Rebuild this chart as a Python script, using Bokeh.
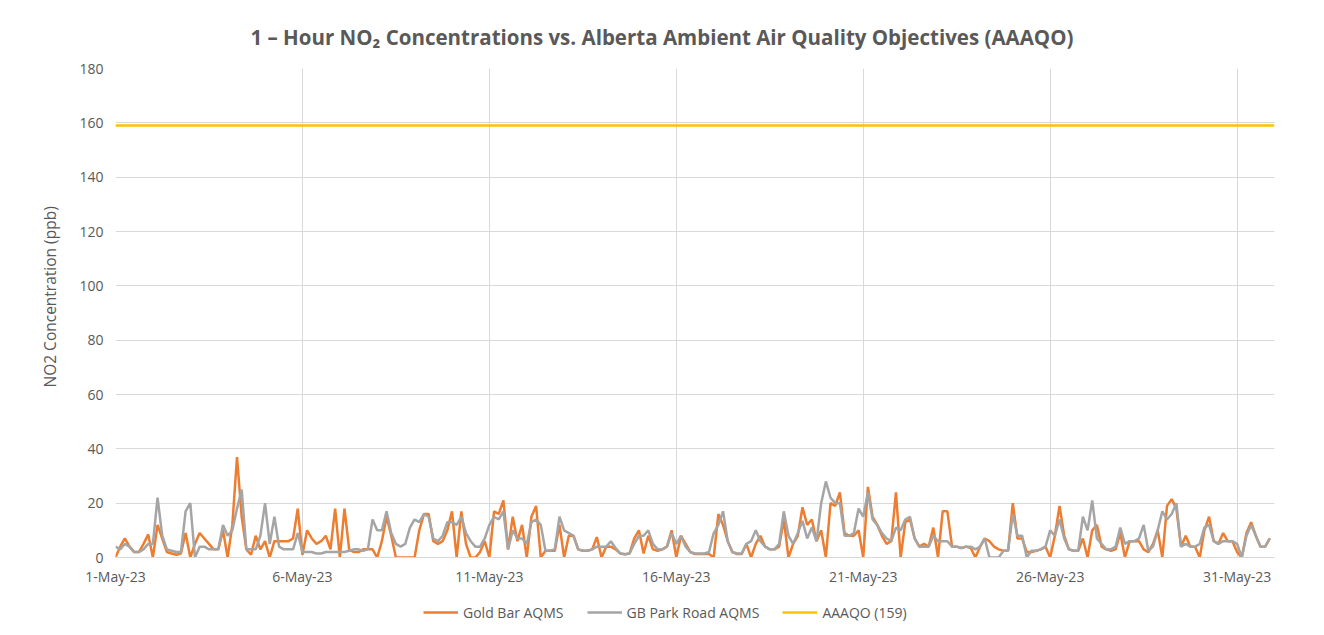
import pandas as pd
from bokeh.plotting import figure
from bokeh.layouts import column
from bokeh.models import (FixedTicker, DatetimeTickFormatter, Legend, LegendItem,
                          ColumnDataSource, Range1d, Title)
from bokeh.embed import file_html
from bokeh.resources import INLINE

# ---- data (3-hourly readings, 1 May 2023 00:00 onward) ----
gold_bar = [
    0, 4, 7, 4, 2, 2, 5, 8.5,          # 1 May
    0, 12, 7, 2, 1.5, 1, 1.5, 9,       # 2 May
    0, 5, 9, 7, 5, 3, 3, 10,           # 3 May
    0, 12, 37, 15, 3, 1, 8, 3,         # 4 May
    6, 0, 6, 6, 6, 6, 7, 18,           # 5 May
    1, 10, 7, 5, 6, 8, 3, 18,          # 6 May
    0, 18, 3, 2, 2, 3, 3, 3,           # 7 May
    0, 6, 15, 8, 0, 0, 0, 0,           # 8 May
    0, 10, 16, 16, 6, 5, 6, 10,        # 9 May
    17, 0, 17, 5, 0, 0, 2, 6,          # 10 May
    0, 17, 16, 21, 3, 15, 6, 12,       # 11 May
    0, 15, 19, 0, 2.5, 2.5, 2.5, 12,   # 12 May
    0, 8, 8, 3, 2.5, 2.5, 3, 7.5,      # 13 May
    0, 4, 4, 3, 1.5, 1.2, 1.5, 7,      # 14 May
    10, 1.5, 8, 3, 2.5, 3, 4, 10,      # 15 May
    0, 8, 5, 2, 1.3, 1.3, 1.3, 1.3,    # 16 May
    0, 16, 12, 6, 2, 1.3, 1.3, 5,      # 17 May
    0, 5, 8, 4, 3, 3, 4, 14,           # 18 May
    0, 5, 8, 18.5, 12, 14, 6, 10,      # 19 May
    0, 20, 19, 24, 9, 8, 8, 10,        # 20 May
    0, 26, 15, 12, 8, 5, 6, 24,        # 21 May
    0, 13, 14, 7, 4, 5, 4, 11,         # 22 May
    0, 17, 17, 4, 4, 3.5, 4, 3.5,      # 23 May
    0, 4, 7, 6, 4, 3, 2.5, 2.5,        # 24 May
    20, 7, 7, 2, 2, 2.5, 3, 4,         # 25 May
    0, 8, 19, 8, 3, 2.5, 2.5, 7,       # 26 May
    0, 10, 12, 4, 3, 2.5, 3, 9,        # 27 May
    0, 6, 6, 6, 3, 2, 5, 10,           # 28 May
    0, 19, 21.5, 18, 4, 8, 4, 4,       # 29 May
    0, 10, 15, 6, 5, 9, 6, 6,          # 30 May
    2, 0, 9, 13, 8, 4, 4, 7,           # 31 May
]

gb_park_road = [
    4, 3, 5, 4, 2, 2, 3, 5,            # 1 May
    5, 22, 8, 3, 2.5, 2, 2, 17,        # 2 May
    20, 0, 4, 4, 3, 3, 3, 12,          # 3 May
    8, 10, 18, 25, 3, 3, 3, 8,         # 4 May
    20, 5, 15, 4, 3, 3, 3, 9,          # 5 May
    2, 2, 2, 1.5, 1.5, 2, 2, 2,        # 6 May
    2, 2, 2.5, 3, 3, 2.5, 3, 14,       # 7 May
    10, 10, 17, 9, 5, 4, 5, 11,        # 8 May
    14, 13, 16, 15, 7, 6, 8, 13,       # 9 May
    13, 12, 15, 9, 6, 4, 4, 7,         # 10 May
    12, 15, 14, 17, 3, 10, 7, 7,       # 11 May
    5, 13, 14, 12, 2.5, 2.5, 3, 15,    # 12 May
    10, 9, 8, 3, 2.5, 2.5, 3, 4,       # 13 May
    4, 4, 6, 3.5, 1.5, 1.2, 1.5, 5,    # 14 May
    8, 8, 10, 5, 3, 3, 4, 9,           # 15 May
    5, 8, 4, 2, 1.5, 1.5, 1.5, 2,      # 16 May
    9, 12, 17, 6, 2, 1.5, 1.5, 5,      # 17 May
    6, 10, 6, 4, 3, 3, 5, 17,          # 18 May
    8, 5, 9, 13.5, 7, 11, 6, 20,       # 19 May
    28, 22, 20, 20, 8, 8, 9, 18,       # 20 May
    15, 24, 14, 12, 9, 7, 6, 11,       # 21 May
    10, 14, 15, 7, 4, 4, 4, 8,         # 22 May
    6, 6, 6, 4, 4, 3.5, 4, 4,          # 23 May
    3, 4, 7, 0, 0, 0, 2.5, 2.5,        # 24 May
    16, 8, 8, 0, 2.5, 2.5, 3, 4,       # 25 May
    10, 8, 14, 7, 3, 2.5, 2.5, 15,     # 26 May
    10, 21, 7, 5, 3, 3, 4, 11,         # 27 May
    5, 6, 6, 7, 12, 2.5, 4, 10,        # 28 May
    17, 14, 16, 20, 4, 5, 4, 4,        # 29 May
    5, 11, 12, 6, 5, 6, 6, 6,          # 30 May
    5, 0, 8, 12, 8, 4, 4, 7,           # 31 May
]

aaaqo_value = 159
period_start = "2023-05-01 00:00"
period_end = "2023-06-01 00:00"
x_tick_dates = ["2023-05-01", "2023-05-06", "2023-05-11", "2023-05-16",
                "2023-05-21", "2023-05-26", "2023-05-31"]
y_ticks = [0, 20, 40, 60, 80, 100, 120, 140, 160, 180]

series_names = ["Gold Bar AQMS", "GB Park Road AQMS", "AAAQO (159)"]
series_colors = ["#ED7D31", "#A5A5A5", "#FFC000"]
title_text = "1 \u2013 Hour NO\u2082 Concentrations vs. Alberta Ambient Air Quality Objectives (AAAQO)"
y_label = "NO2 Concentration (ppb)"

# ---- build ----
times = pd.date_range(period_start, periods=len(gold_bar), freq="3h")
src = ColumnDataSource(dict(t=times, gold=gold_bar, gb=gb_park_road))
t0 = pd.Timestamp(period_start)
t1 = pd.Timestamp(period_end)
lim_src = ColumnDataSource(dict(t=[t0, t1], v=[aaaqo_value, aaaqo_value]))

TXT = "#595959"
GRID = "#D9D9D9"
FONT = "Open Sans"
W = 1320
LW = 2.5

p = figure(width=W, height=595, x_axis_type="datetime",
           output_backend="svg", toolbar_location=None,
           x_range=Range1d(t0, t1), y_range=Range1d(0, 180),
           min_border_left=115, min_border_right=46,
           min_border_top=68, min_border_bottom=38)

p.outline_line_color = None
p.background_fill_color = "white"
p.border_fill_color = "white"

p.line("t", "gold", source=src, line_color=series_colors[0], line_width=LW)
p.line("t", "gb", source=src, line_color=series_colors[1], line_width=LW)
p.line("t", "v", source=lim_src, line_color=series_colors[2], line_width=LW)

# title
p.title.text = title_text
p.title.align = "left"
p.title.offset = 135
p.title.standoff = 35
p.title.text_font = FONT
p.title.text_font_style = "bold"
p.title.text_font_size = "20.5px"
p.title.text_color = TXT

# axes
tick_ms = [pd.Timestamp(d).value / 1e6 for d in x_tick_dates]
p.xaxis.ticker = FixedTicker(ticks=tick_ms)
fmt = "%-d-%b-%y"
p.xaxis.formatter = DatetimeTickFormatter(
    milliseconds=fmt, seconds=fmt, minsec=fmt, minutes=fmt, hourmin=fmt,
    hours=fmt, days=fmt, months=fmt, years=fmt)
p.yaxis.ticker = FixedTicker(ticks=y_ticks)

for ax in (p.xaxis[0], p.yaxis[0]):
    ax.major_tick_line_color = None
    ax.minor_tick_line_color = None
    ax.major_tick_out = 0
    ax.major_tick_in = 0
    ax.major_label_text_font = FONT
    ax.major_label_text_font_size = "14px"
    ax.major_label_text_color = TXT

p.xaxis.axis_line_color = GRID
p.xaxis.axis_line_width = 1
p.xaxis.major_label_standoff = 9
p.yaxis.axis_line_color = None
p.yaxis.major_label_standoff = 12

# y-axis title as a side title so it can sit where the reference puts it
ytitle = Title(text=y_label, align="left", offset=170, standoff=31,
               text_font=FONT, text_font_size="15.5px", text_font_style="normal",
               text_color=TXT)
p.add_layout(ytitle, "left")

p.xgrid.grid_line_color = GRID
p.ygrid.grid_line_color = GRID
p.xgrid.grid_line_width = 1
p.ygrid.grid_line_width = 1

# ---- legend strip (separate figure below the chart; its y-range hides the lines) ----
leg = figure(width=W, height=35, output_backend="svg", toolbar_location=None,
             x_axis_location=None, y_axis_location=None,
             x_range=p.x_range, y_range=Range1d(-1000, -999),
             min_border_left=115, min_border_right=46,
             min_border_top=0, min_border_bottom=0)
leg.outline_line_color = None
leg.xgrid.visible = False
leg.ygrid.visible = False
leg_gold = leg.line("t", "gold", source=src, line_color=series_colors[0], line_width=LW)
leg_gb = leg.line("t", "gb", source=src, line_color=series_colors[1], line_width=LW)
leg_lim = leg.line("t", "v", source=lim_src, line_color=series_colors[2], line_width=LW)

legend = Legend(items=[LegendItem(label=n, renderers=[r])
                       for n, r in zip(series_names, [leg_gold, leg_gb, leg_lim])],
                orientation="horizontal", location=(308, 8))
legend.border_line_color = None
legend.background_fill_alpha = 0
legend.label_text_font = FONT
legend.label_text_font_size = "14px"
legend.label_text_color = TXT
legend.glyph_width = 35
legend.label_standoff = 5
legend.spacing = 23
legend.padding = 4
legend.margin = 0
leg.add_layout(legend)

layout = column(p, leg, spacing=0)
open("out.html", "w").write(file_html(layout, INLINE))
